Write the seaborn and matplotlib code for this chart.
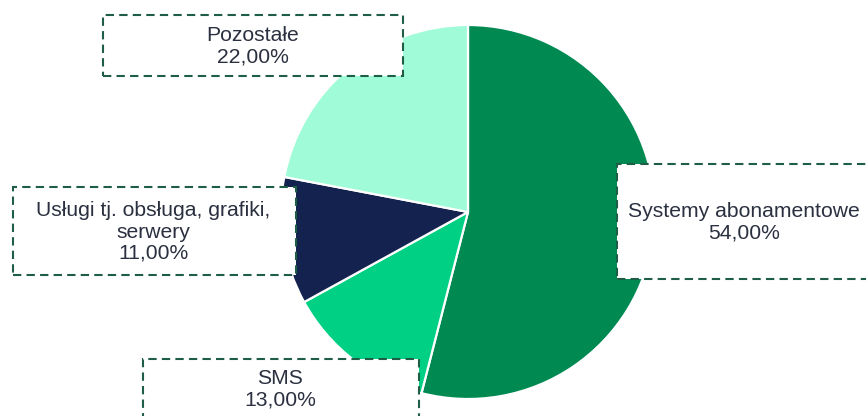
import matplotlib
matplotlib.use("Agg")
import matplotlib.pyplot as plt
from matplotlib.patches import Rectangle
import seaborn as sns

categories = ["Systemy abonamentowe", "SMS", "Usługi tj. obsługa, grafiki,\nserwery", "Pozostałe"]
values = [54.0, 13.0, 11.0, 22.0]
colors = ["#008A52", "#00D084", "#13224F", "#A0FCD8"]

sns.set_theme(style="white")
plt.rcParams['font.family'] = ['Liberation Sans', 'DejaVu Sans']

W, H = 866, 416
fig = plt.figure(figsize=(W / 100, H / 100), dpi=100)
ax = fig.add_axes([0, 0, 1, 1])

cx, cy, r = 468, H - 212, 187
ax.pie(values, colors=colors, startangle=90, counterclock=False,
       center=(cx, cy), radius=r, frame=True,
       wedgeprops=dict(edgecolor='white', linewidth=1.6))
ax.set_xlim(0, W)
ax.set_ylim(0, H)
ax.set_aspect('equal')
ax.axis('off')

# label boxes: (x0, y0_top, x1, y1_bottom) in pixel space, text center
boxes = [
    ((617, 164, 880, 279), (744, 222)),
    ((143, 359, 419, 430), (280, 389)),
    ((13, 187, 296, 275), (153, 232)),
    ((103, 15, 403, 76), (253, 46)),
]
text_color = "#2B3040"
for (cat, val, ((x0, y0, x1, y1), (tx, ty))) in zip(categories, values, boxes):
    rect = Rectangle((x0, H - y1), x1 - x0, y1 - y0, facecolor='white',
                     edgecolor='#1E5E46', linewidth=1.5,
                     linestyle=(0, (4, 2.5)), zorder=5, clip_on=False)
    ax.add_patch(rect)
    pct = f"{val:.2f}%".replace('.', ',')
    label = f"{cat}\n{pct}"
    ax.text(tx, H - ty, label, ha='center', va='center', fontsize=15.2,
            color=text_color, linespacing=1.15, zorder=6, multialignment='center')

fig.savefig("out.png", dpi=100)
